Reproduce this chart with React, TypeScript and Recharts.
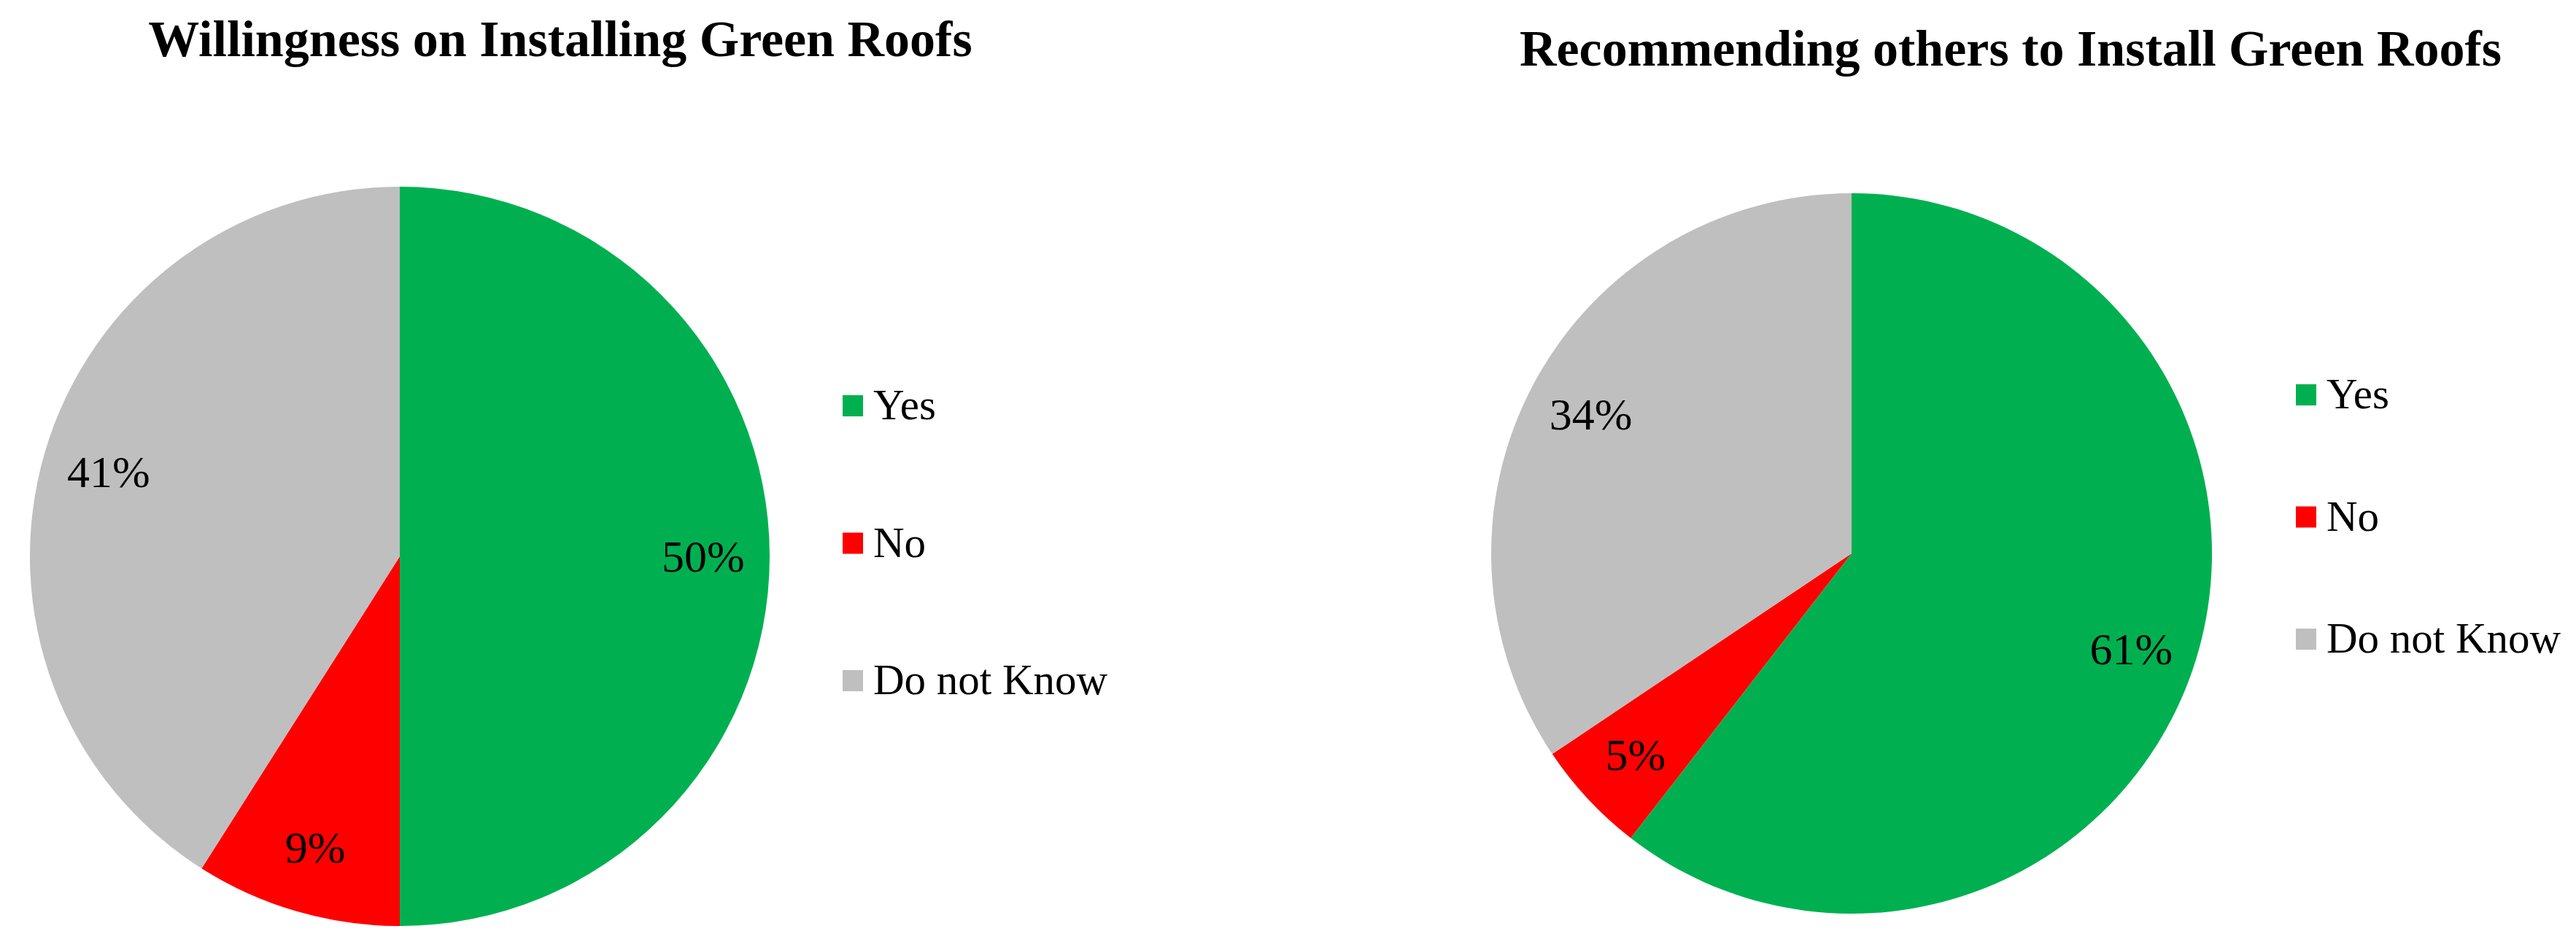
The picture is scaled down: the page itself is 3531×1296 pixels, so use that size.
import React from "react";
import { PieChart, Pie, Cell, Legend } from "recharts";

const categories = ["Yes", "No", "Do not Know"];
const colors = ["#00B050", "#FF0000", "#BFBFBF"];

const willingnessValues = [50, 9, 41];
const recommendValues = [60.5, 5.1, 34.4];

const leftTitle = "Willingness on Installing Green Roofs";
const rightTitle = "Recommending others to Install Green Roofs";

const FONT = "'Liberation Serif', 'Times New Roman', serif";
const RAD = Math.PI / 180;

const buildData = (values: number[]) =>
  categories.map((name, i) => ({ name, value: values[i] }));

const renderLabel = (props: any) => {
  const { cx, cy, midAngle, outerRadius, value } = props;
  const r = outerRadius * 0.82;
  const x = cx + r * Math.cos(-midAngle * RAD);
  const y = cy + r * Math.sin(-midAngle * RAD);
  return (
    <text
      x={x}
      y={y}
      dy={21}
      textAnchor="middle"
      fill="#000"
      fontFamily={FONT}
      fontSize={62}
    >
      {`${Math.round(value)}%`}
    </text>
  );
};

const makeLegend = (spacing: number, firstCenter: number) => (props: any) => {
  const payload: any[] = props.payload || [];
  const items = categories.map((name, i) => {
    const entry = payload.find((p: any) => p.value === name);
    return { name, color: colors[i] || (entry && entry.color) };
  });
  const h = firstCenter * 2 + spacing * (items.length - 1);
  return (
    <svg width={400} height={h} style={{ overflow: "visible" }}>
      {items.map((item, i) => {
        const c = firstCenter + i * spacing;
        return (
          <g key={item.name}>
            <rect x={0} y={c - 14} width={28} height={29} fill={item.color} />
            <text x={42} y={c + 19} fontFamily={FONT} fontSize={59} fill="#000">
              {item.name}
            </text>
          </g>
        );
      })}
    </svg>
  );
};

const titleStyle = (centerX: number, top: number): React.CSSProperties => ({
  position: "absolute",
  left: centerX - 900,
  top,
  width: 1800,
  textAlign: "center",
  fontFamily: FONT,
  fontWeight: "bold",
  fontSize: 70,
  lineHeight: "70px",
  color: "#000",
  whiteSpace: "nowrap",
});

export default function App() {
  const leftData = buildData(willingnessValues);
  const rightData = buildData(recommendValues);
  return (
    <div
      style={{
        position: "absolute",
        left: 0,
        top: 0,
        width: 3531,
        height: 1296,
        background: "#fff",
        overflow: "hidden",
      }}
    >
      <div style={{ position: "absolute", left: 0, top: 0 }}>
        <PieChart width={1765} height={1296}>
          <Pie
            data={leftData}
            dataKey="value"
            nameKey="name"
            cx={543}
            cy={758}
            outerRadius={507}
            startAngle={90}
            endAngle={-270}
            stroke="none"
            label={renderLabel}
            labelLine={false}
            isAnimationActive={false}
          >
            {leftData.map((_, i) => (
              <Cell key={i} fill={colors[i]} />
            ))}
          </Pie>
          <Legend
            layout="vertical"
            content={makeLegend(188.5, 56)}
            wrapperStyle={{ left: 1155, top: 500, width: 400 }}
          />
        </PieChart>
      </div>
      <div style={{ position: "absolute", left: 1765, top: 0 }}>
        <PieChart width={1766} height={1296}>
          <Pie
            data={rightData}
            dataKey="value"
            nameKey="name"
            cx={768}
            cy={754}
            outerRadius={494}
            startAngle={90}
            endAngle={-270}
            stroke="none"
            label={renderLabel}
            labelLine={false}
            isAnimationActive={false}
          >
            {rightData.map((_, i) => (
              <Cell key={i} fill={colors[i]} />
            ))}
          </Pie>
          <Legend
            layout="vertical"
            content={makeLegend(167.5, 61)}
            wrapperStyle={{ left: 1382, top: 480, width: 400 }}
          />
        </PieChart>
      </div>
      <div style={titleStyle(768, 19)}>{leftTitle}</div>
      <div style={titleStyle(2756, 32)}>{rightTitle}</div>
    </div>
  );
}
